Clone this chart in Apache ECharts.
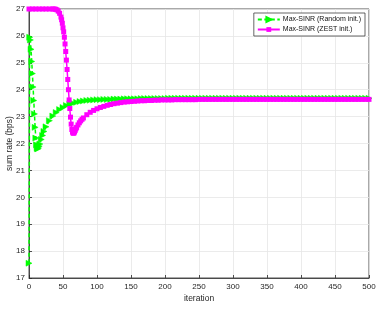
<!DOCTYPE html>
<html><head><meta charset="utf-8">
<script src="https://cdn.jsdelivr.net/npm/echarts@6/dist/echarts.min.js"></script>
<style>html,body{margin:0;padding:0;background:#fff}#c{width:381px;height:311px}</style>
</head><body><div id="c"></div>
<script>
const xTicks = [0,50,100,150,200,250,300,350,400,450,500];
const yTicks = [17,18,19,20,21,22,23,24,25,26,27];
const seriesNames = ['Max-SINR (Random init.)','Max-SINR (ZEST init.)'];

const iterG = [0,1,2,3,4,5,6,7,8,9,10,11,12,13,14,15,16,18,20,22,
  25,30,35,40,45,50,55,60,65,70,75,80,85,90,95,100,
  105,110,115,120,125,130,135,140,145,150,
  155,160,165,170,175,180,185,190,195,200,
  205,210,215,220,225,230,235,240,245,250,
  255,260,265,270,275,280,285,290,295,300,
  305,310,315,320,325,330,335,340,345,350,
  355,360,365,370,375,380,385,390,395,400,
  405,410,415,420,425,430,435,440,445,450,
  455,460,465,470,475,480,485,490,495,500];
const valG = [17.55,25.95,25.85,25.5,25.05,24.6,24.1,23.6,23.1,22.6,22.2,21.95,21.82,21.8,21.83,21.9,21.98,22.15,22.3,22.45,
  22.62,22.85,23.02,23.15,23.26,23.34,23.41,23.46,23.5,23.53,23.56,23.58,23.6,23.61,23.62,23.63,
  23.63,23.64,23.64,23.64,23.65,23.65,23.65,23.66,23.66,23.66,
  23.66,23.66,23.67,23.67,23.67,23.67,23.67,23.67,23.67,23.67,
  23.68,23.68,23.68,23.68,23.68,23.68,23.68,23.68,23.68,23.68,
  23.68,23.68,23.68,23.68,23.68,23.68,23.68,23.68,23.68,23.68,
  23.68,23.68,23.68,23.68,23.68,23.68,23.68,23.68,23.68,23.68,
  23.68,23.68,23.68,23.68,23.68,23.68,23.68,23.68,23.68,23.68,
  23.68,23.68,23.68,23.68,23.68,23.68,23.68,23.68,23.68,23.68,
  23.68,23.68,23.68,23.68,23.68,23.68,23.68,23.68,23.68,23.68];

const iterM = [0,5,10,15,20,25,30,35,37,39,41,43,45,
  47,48,49,50,51,52,53,54,55,56,57,58,59,60,61,62,63,64,65,66,67,68,69,70,
  72,74,76,78,80,85,90,95,100,
  105,110,115,120,125,130,135,140,145,150,
  155,160,165,170,175,180,185,190,195,200,
  205,210,215,220,225,230,235,240,245,250,
  255,260,265,270,275,280,285,290,295,300,
  305,310,315,320,325,330,335,340,345,350,
  355,360,365,370,375,380,385,390,395,400,
  405,410,415,420,425,430,435,440,445,450,
  455,460,465,470,475,480,485,490,495,500];
const valM = [27,27,27,27,27,27,27,27,27,26.99,26.97,26.92,26.84,
  26.7,26.6,26.47,26.3,26.15,25.95,25.7,25.42,25.1,24.75,24.38,24.0,23.62,23.3,22.98,22.72,22.52,22.42,22.38,22.39,22.43,22.49,22.55,22.6,
  22.69,22.77,22.84,22.9,22.95,23.07,23.16,23.23,23.29,
  23.34,23.38,23.42,23.45,23.48,23.5,23.52,23.54,23.55,23.56,
  23.57,23.58,23.59,23.59,23.6,23.6,23.61,23.61,23.62,23.62,
  23.62,23.62,23.63,23.63,23.63,23.63,23.63,23.63,23.63,23.64,
  23.64,23.64,23.64,23.64,23.64,23.64,23.64,23.64,23.64,23.64,
  23.64,23.64,23.64,23.64,23.64,23.64,23.64,23.64,23.64,23.64,
  23.64,23.64,23.64,23.64,23.64,23.64,23.64,23.64,23.64,23.64,
  23.64,23.64,23.64,23.64,23.64,23.64,23.64,23.64,23.64,23.64,
  23.64,23.64,23.64,23.64,23.64,23.64,23.64,23.64,23.64,23.64];

const zip = (xs, ys) => xs.map((x, i) => [x, ys[i]]);
const font = '"Liberation Sans", Arial, sans-serif';
const chart = echarts.init(document.getElementById('c'), null, {renderer: 'canvas'});
const axisCommon = {
  type: 'value',
  axisLine: {show: true, lineStyle: {color: '#262626', width: 0.8}},
  axisTick: {show: true, inside: true, length: 3, lineStyle: {color: '#262626', width: 0.8}},
  splitLine: {show: true, lineStyle: {color: '#e6e6e6', width: 0.8}},
  nameLocation: 'middle',
  nameMoveOverlap: false,
  nameTextStyle: {fontSize: 8.5, color: '#262626', fontFamily: font}
};
chart.setOption({
  animation: false,
  backgroundColor: '#fff',
  grid: {left: 29, right: 12, top: 9, bottom: 33, show: true, borderColor: '#262626', borderWidth: 0.8,
         containLabel: false, outerBoundsMode: 'none'},
  xAxis: Object.assign({}, axisCommon, {
    min: xTicks[0], max: xTicks[xTicks.length - 1], interval: xTicks[1] - xTicks[0],
    name: 'iteration', nameGap: 16,
    axisLabel: {fontSize: 8, color: '#262626', margin: 5, fontFamily: font}
  }),
  yAxis: Object.assign({}, axisCommon, {
    min: yTicks[0], max: yTicks[yTicks.length - 1], interval: yTicks[1] - yTicks[0],
    name: 'sum rate (bps)', nameGap: 15,
    axisLabel: {fontSize: 8, color: '#262626', margin: 4, fontFamily: font}
  }),
  legend: {
    orient: 'vertical', right: 16, top: 13,
    data: seriesNames,
    itemWidth: 22, itemHeight: 6, itemGap: 3,
    padding: [3, 4, 3, 3],
    backgroundColor: '#fff', borderColor: '#262626', borderWidth: 0.7,
    textStyle: {fontSize: 7, color: '#111', fontFamily: font, padding: [0, 0, 0, -2]}
  },
  series: [
    {
      name: seriesNames[0], type: 'line', data: zip(iterG, valG),
      symbol: 'triangle', symbolSize: 6, symbolRotate: -90, clip: false,
      lineStyle: {color: '#00ff00', width: 1.5, type: [4, 2.5]},
      itemStyle: {color: '#00ff00', borderColor: '#00ff00', borderWidth: 0.5}
    },
    {
      name: seriesNames[1], type: 'line', data: zip(iterM, valM),
      symbol: 'rect', symbolSize: 5, clip: false,
      lineStyle: {color: '#ff00ff', width: 1.5},
      itemStyle: {color: '#ff00ff'}
    }
  ]
});
</script></body></html>
